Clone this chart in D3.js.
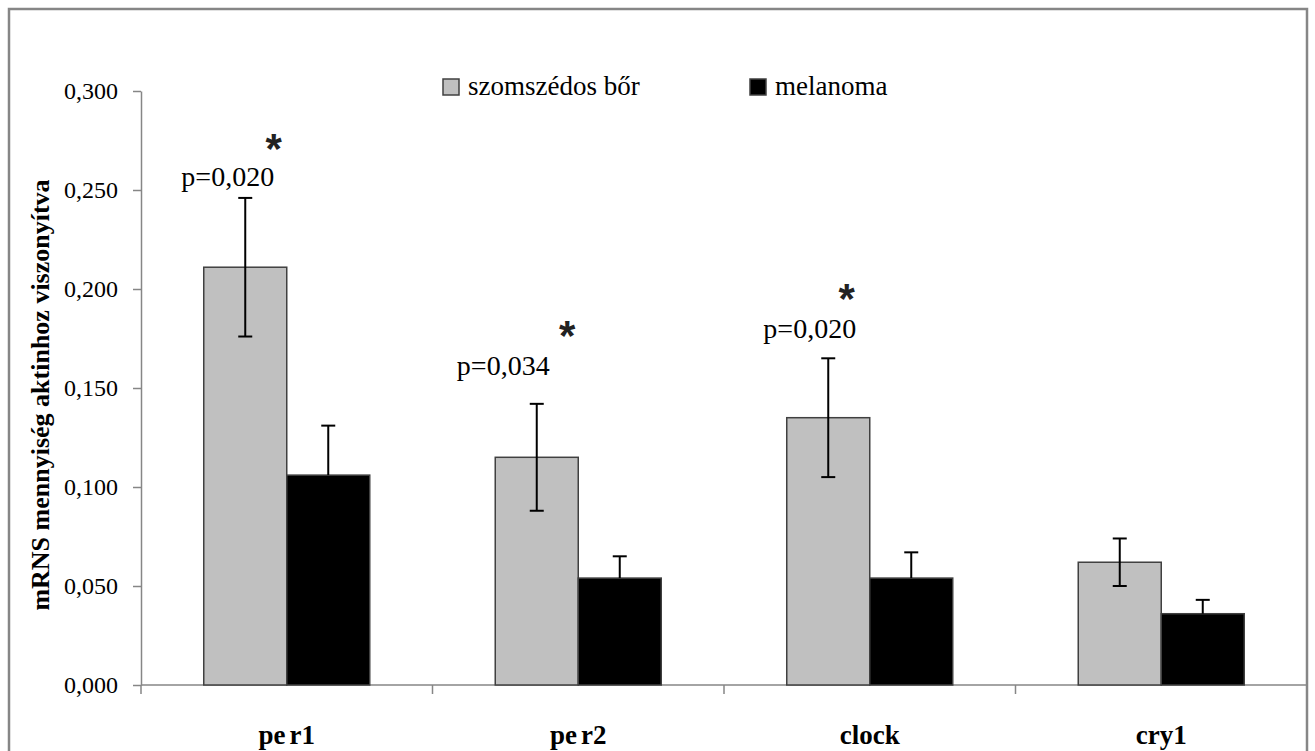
<!DOCTYPE html>
<html>
<head>
<meta charset="utf-8">
<script src="https://cdn.jsdelivr.net/npm/d3@7"></script>
<style>
  body { margin: 0; background: #fff; }
  svg { display: block; }
</style>
</head>
<body>
<div id="chart"></div>
<script>
'use strict'

const genes = ['per1', 'per2', 'clock', 'cry1']
const seriesNames = ['szomszédos bőr', 'melanoma']
const skinValues = [0.211, 0.115, 0.135, 0.062]
const skinErrors = [0.035, 0.027, 0.030, 0.012]
const melanomaValues = [0.106, 0.054, 0.054, 0.036]
const melanomaErrors = [0.025, 0.011, 0.013, 0.007]
const yTicks = [0, 0.05, 0.1, 0.15, 0.2, 0.25, 0.3]
// significance marks: gene, label, label height, star height (data units)
const pGenes = ['per1', 'per2', 'clock']
const pLabels = ['p=0,020', 'p=0,034', 'p=0,020']
const pLabelY = [0.252, 0.1566, 0.1753]
const starY = [0.2753, 0.1808, 0.1995]

const width = 1315
const height = 751
const plotLeft = 141
const plotRight = 1307
const plotTop = 91
const plotBottom = 685
const serif = "'Liberation Serif', 'Times New Roman', serif"

const svg = d3.select('#chart').append('svg')
  .attr('width', width)
  .attr('height', height)

// outer frame
svg.append('rect')
  .attr('x', 9).attr('y', 9)
  .attr('width', 1298).attr('height', 760)
  .attr('fill', 'none')
  .attr('stroke', '#868686')
  .attr('stroke-width', 2.5)

const x = d3.scaleBand().domain(genes).range([plotLeft, plotRight])
const xs = d3.scaleBand().domain(seriesNames).range([0, x.bandwidth()])
  .paddingInner(0).paddingOuter(0.756)
const y = d3.scaleLinear().domain([0, 0.3]).range([plotBottom, plotTop])

const fmt = v => d3.format('.3f')(v).replace('.', ',')

// y axis
const yAxis = svg.append('g')
  .attr('transform', `translate(${plotLeft},0)`)
  .call(d3.axisLeft(y).tickValues(yTicks).tickFormat(fmt).tickSize(8).tickSizeOuter(0).tickPadding(15))
yAxis.select('.domain').attr('stroke', '#868686').attr('stroke-width', 1.5)
yAxis.selectAll('.tick line').attr('stroke', '#868686').attr('stroke-width', 1.5)
yAxis.selectAll('.tick text')
  .attr('font-family', serif)
  .attr('font-size', 24)
  .attr('fill', '#000')

// x axis line and category ticks
svg.append('line')
  .attr('x1', plotLeft).attr('x2', plotRight)
  .attr('y1', plotBottom).attr('y2', plotBottom)
  .attr('stroke', '#868686').attr('stroke-width', 1.5)
svg.selectAll('line.xtick')
  .data(genes)
  .enter().append('line')
  .attr('class', 'xtick')
  .attr('x1', d => x(d)).attr('x2', d => x(d))
  .attr('y1', plotBottom).attr('y2', plotBottom + 9)
  .attr('stroke', '#868686').attr('stroke-width', 1.5)

// gene labels; the original shows a small gap inside "per"
const xLabels = svg.selectAll('text.xlabel')
  .data(genes)
  .enter().append('text')
  .attr('class', 'xlabel')
  .attr('x', d => x(d) + x.bandwidth() / 2)
  .attr('y', 744)
  .attr('text-anchor', 'middle')
  .attr('font-family', serif)
  .attr('font-size', 27)
  .attr('font-weight', 'bold')
xLabels.each(function (d) {
  const t = d3.select(this)
  if (d.startsWith('per')) {
    t.append('tspan').text(d.slice(0, 2))
    t.append('tspan').attr('dx', 4).text(d.slice(2))
  } else {
    t.text(d)
  }
})

// bars
const rows = genes.map((g, i) => ({
  gene: g,
  bars: [
    { s: seriesNames[0], v: skinValues[i], e: skinErrors[i], fill: '#c0c0c0' },
    { s: seriesNames[1], v: melanomaValues[i], e: melanomaErrors[i], fill: '#000000' }
  ]
}))

const groups = svg.selectAll('g.gene')
  .data(rows)
  .enter().append('g')
  .attr('class', 'gene')
  .attr('transform', d => `translate(${x(d.gene)},0)`)

groups.selectAll('rect')
  .data(d => d.bars)
  .enter().append('rect')
  .attr('x', d => xs(d.s))
  .attr('y', d => y(d.v))
  .attr('width', xs.bandwidth())
  .attr('height', d => y(0) - y(d.v))
  .attr('fill', d => d.fill)
  .attr('stroke', '#404040')
  .attr('stroke-width', 1.5)

// error bars
const err = groups.selectAll('g.err')
  .data(d => d.bars)
  .enter().append('g')
  .attr('class', 'err')
  .attr('transform', d => `translate(${xs(d.s) + xs.bandwidth() / 2},0)`)
err.append('line')
  .attr('x1', 0).attr('x2', 0)
  .attr('y1', d => y(d.v + d.e))
  .attr('y2', d => d.fill === '#000000' ? y(d.v) : y(d.v - d.e))
  .attr('stroke', '#000').attr('stroke-width', 2)
err.append('line')
  .attr('x1', -7).attr('x2', 7)
  .attr('y1', d => y(d.v + d.e)).attr('y2', d => y(d.v + d.e))
  .attr('stroke', '#000').attr('stroke-width', 2)
err.filter(d => d.fill !== '#000000').append('line')
  .attr('x1', -7).attr('x2', 7)
  .attr('y1', d => y(d.v - d.e)).attr('y2', d => y(d.v - d.e))
  .attr('stroke', '#000').attr('stroke-width', 2)

// p-values and stars
const labelShift = [-59, -75, -60]
const starShift = [-13, -11, -23]
pGenes.forEach((g, i) => {
  const cx = x(g) + x.bandwidth() / 2
  svg.append('text')
    .attr('x', cx + labelShift[i])
    .attr('y', y(pLabelY[i]))
    .attr('text-anchor', 'middle')
    .attr('font-family', serif)
    .attr('font-size', 28)
    .text(pLabels[i])
  svg.append('text')
    .attr('x', cx + starShift[i])
    .attr('y', y(starY[i]) + 23)
    .attr('text-anchor', 'middle')
    .attr('font-family', "'Liberation Sans', Arial, sans-serif")
    .attr('font-weight', 'bold')
    .attr('font-size', 42)
    .attr('fill', '#222')
    .text('*')
})

// legend
const legendX = [443, 750]
const legendFill = ['#c0c0c0', '#000000']
const legend = svg.selectAll('g.legend')
  .data(seriesNames)
  .enter().append('g')
  .attr('class', 'legend')
  .attr('transform', (d, i) => `translate(${legendX[i]},79)`)
legend.append('rect')
  .attr('width', 16).attr('height', 16)
  .attr('fill', (d, i) => legendFill[i])
  .attr('stroke', '#404040').attr('stroke-width', 1.5)
legend.append('text')
  .attr('x', 25).attr('y', 16)
  .attr('font-family', serif)
  .attr('font-size', 27)
  .text(d => d)

// y axis title
svg.append('text')
  .attr('transform', 'translate(49,395) rotate(-90)')
  .attr('text-anchor', 'middle')
  .attr('font-family', serif)
  .attr('font-size', 26)
  .attr('font-weight', 'bold')
  .text('mRNS mennyiség aktinhoz viszonyítva')
</script>
</body>
</html>
